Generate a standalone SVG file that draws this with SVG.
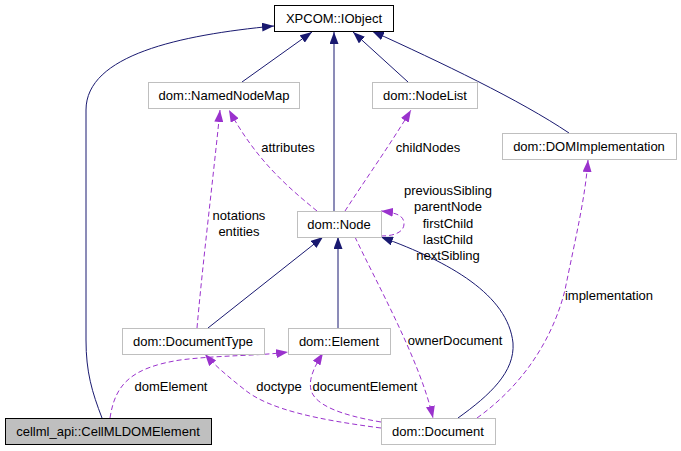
<svg xmlns="http://www.w3.org/2000/svg" width="681" height="451" viewBox="0 0 681 451">
<style>
text{font-family:"Liberation Sans",Arial,sans-serif;font-size:13px;fill:#000}
.n rect{fill:#fff;stroke:#bfbfbf;stroke-width:1}
.n text{text-anchor:middle}
.s{fill:none;stroke:#191970;stroke-width:1;marker-end:url(#an)}
.d{fill:none;stroke:#9a32cd;stroke-width:1;stroke-dasharray:5,3;marker-end:url(#ap)}
.l{text-anchor:middle}
</style>
<defs>
<marker id="an" viewBox="0 0 12 9" refX="12" refY="4.5" markerWidth="12" markerHeight="9" markerUnits="userSpaceOnUse" orient="auto"><path d="M0,0L12,4.5L0,9z" fill="#191970"/></marker>
<marker id="ap" viewBox="0 0 12 9" refX="12" refY="4.5" markerWidth="12" markerHeight="9" markerUnits="userSpaceOnUse" orient="auto"><path d="M0,0L12,4.5L0,9z" fill="#9a32cd"/></marker>
</defs>
<g id="connectors">
<path class="s" d="M102,418 C92,392 86,372 86,340 L86,110 C86,55 180,35 274,26"/>
<path class="s" d="M242,82 L312,32"/>
<path class="s" d="M334,211 L334,32"/>
<path class="s" d="M408,82 L353,32"/>
<path class="s" d="M569,133 C520,100 440,62 372,31"/>
<path class="s" d="M208,328 L323,237"/>
<path class="s" d="M338,328 L338,237"/>
<path class="s" d="M458,418 C490,395 515,372 513,343 C508,295 450,262 381,237"/>
<path class="d" d="M317,211 C285,185 255,158 229,110"/>
<path class="d" d="M197,328 C203,260 213,180 220,110"/>
<path class="d" d="M345,211 C365,180 390,145 411,110"/>
<path class="d" d="M381,236 C398,236 404,230 404,224 C404,216 398,213 381,211"/>
<path class="d" d="M355,237 C375,280 420,360 433,418"/>
<path class="d" d="M477,418 C530,380 555,330 565,290 C575,240 585,200 588,160"/>
<path class="d" d="M110,418 C115,385 130,368 180,360 C220,355 260,356 288,352"/>
<path class="d" d="M381,428 C320,420 270,410 245,390 C230,378 215,366 205,354"/>
<path class="d" d="M381,422 C340,415 315,405 311,390 C308,378 316,364 323,353"/>
</g>
<g id="labels">
<text x="288" y="152" class="l">attributes</text>
<text x="239" y="220" class="l">notations</text>
<text x="239" y="236" class="l">entities</text>
<text x="428" y="152" class="l">childNodes</text>
<text x="448" y="195" class="l">previousSibling</text>
<text x="448" y="211" class="l">parentNode</text>
<text x="448" y="228" class="l">firstChild</text>
<text x="448" y="244" class="l">lastChild</text>
<text x="448" y="260" class="l">nextSibling</text>
<text x="455" y="345" class="l">ownerDocument</text>
<text x="609" y="300" class="l">implementation</text>
<text x="171" y="391" class="l">domElement</text>
<text x="279" y="391" class="l">doctype</text>
<text x="365" y="391" class="l">documentElement</text>
</g>
<g id="node-iobject" class="n"><rect x="274.5" y="5.5" width="119" height="26" style="stroke:#000"/><text x="334" y="23">XPCOM::IObject</text></g>
<g id="node-namednodemap" class="n"><rect x="148.5" y="82.5" width="151" height="26"/><text x="224" y="100">dom::NamedNodeMap</text></g>
<g id="node-nodelist" class="n"><rect x="372.5" y="82.5" width="105" height="26"/><text x="425" y="100">dom::NodeList</text></g>
<g id="node-domimplementation" class="n"><rect x="502.5" y="133.5" width="174" height="26"/><text x="589" y="151">dom::DOMImplementation</text></g>
<g id="node-node" class="n"><rect x="297.5" y="211.5" width="84" height="26"/><text x="339" y="229">dom::Node</text></g>
<g id="node-documenttype" class="n"><rect x="122.5" y="328.5" width="142" height="26"/><text x="193" y="346">dom::DocumentType</text></g>
<g id="node-element" class="n"><rect x="288.5" y="328.5" width="102" height="26"/><text x="339" y="346">dom::Element</text></g>
<g id="node-cellmldomelement" class="n"><rect x="5.5" y="418.5" width="206" height="26" style="fill:#bfbfbf;stroke:#000"/><text x="108" y="436">cellml_api::CellMLDOMElement</text></g>
<g id="node-document" class="n"><rect x="381.5" y="418.5" width="114" height="26"/><text x="438" y="436">dom::Document</text></g>
</svg>
